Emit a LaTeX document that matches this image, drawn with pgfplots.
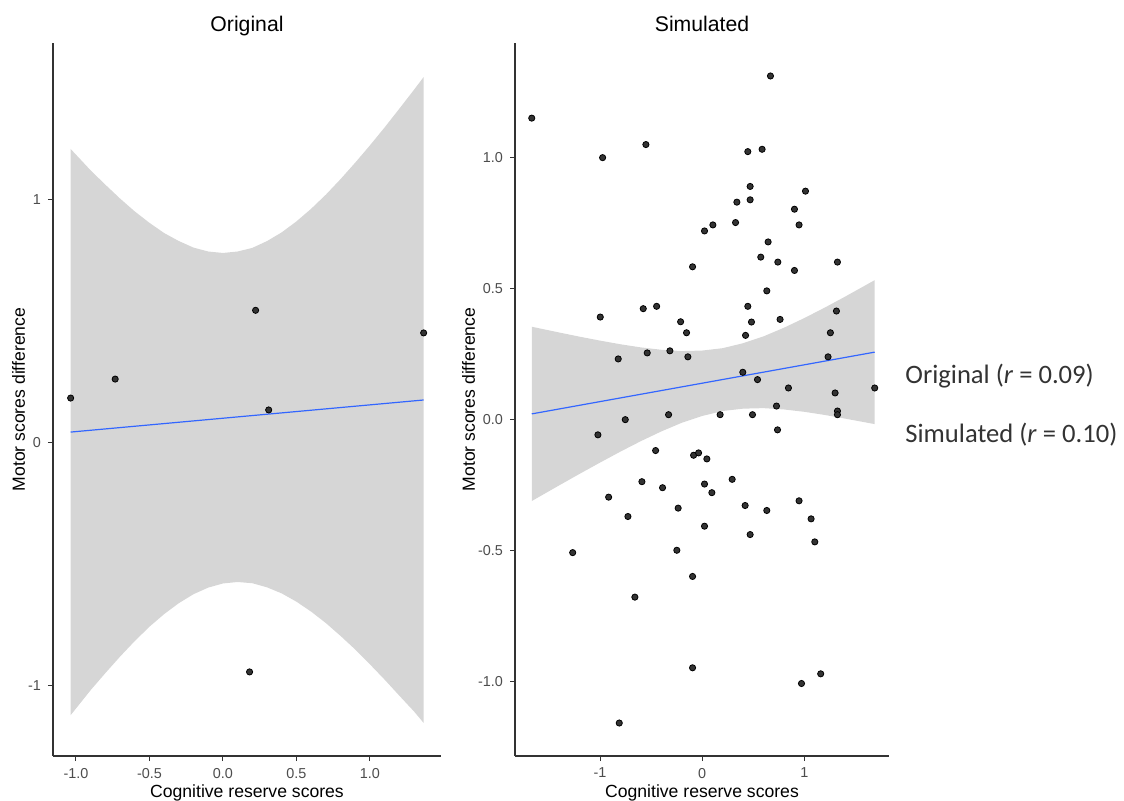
\documentclass[border=0pt]{standalone}
\usepackage{pgfplots}
\pgfplotsset{compat=1.18}
\usepackage{fontspec}
\setmainfont{Liberation Sans}
\newfontfamily\calibri{Carlito}
\definecolor{band}{RGB}{214,214,214}
\definecolor{fit}{RGB}{51,102,255}
\definecolor{ticklab}{RGB}{77,77,77}

\pgfplotsset{
 ggstyle/.style={
  scale only axis,
  anchor=south west,
  axis lines*=left,
  axis line style={black!80, line width=0.6pt, -},
  tick align=outside,
  major tick length=2.5pt,
  tick style={black!80, line width=0.5pt},
  every tick label/.append style={font=\fontsize{7.2}{8}\selectfont, text=ticklab},
  label style={font=\fontsize{8.8}{10}\selectfont},
  title style={font=\fontsize{10.6}{12}\selectfont, at={(axis description cs:0.5,1)}, anchor=base, yshift=-0.25pt},
  xlabel style={at={(axis description cs:0.5,0)}, anchor=base, yshift=-20.8pt},
  xlabel={Cognitive reserve scores},
  ylabel={Motor scores difference},
 },
 pts/.style={only marks, mark=*, mark size=1.55pt, mark options={draw=none, fill=black!80}},
}

\begin{document}
\begin{tikzpicture}

% ---------------- Original ----------------
\begin{axis}[ggstyle,
  at={(26.5pt,22pt)}, width=194pt, height=356.5pt,
  xmin=-1.156, xmax=1.483, ymin=-1.29, ymax=1.644,
  xtick={-1,-0.5,0,0.5,1}, xticklabels={-1.0,-0.5,0.0,0.5,1.0},
  ytick={-1,0,1}, yticklabels={-1,0,1},
  title={Original},
  ylabel style={at={(axis description cs:-0.0722,0.5)}, anchor=base},
]
\addplot[fill=band, draw=none] coordinates {
(-1.036,1.208) (-0.9,1.120) (-0.8,1.061) (-0.7,1.004) (-0.6,0.951) (-0.5,0.904) (-0.4,0.862) (-0.3,0.829) (-0.2,0.802) (-0.1,0.786) (0.0,0.780)
(0.1,0.786) (0.2,0.801) (0.3,0.829) (0.4,0.865) (0.5,0.910) (0.6,0.962) (0.7,1.020) (0.8,1.084) (0.9,1.152) (1.0,1.223) (1.1,1.297) (1.2,1.374) (1.3,1.452) (1.365,1.504)
(1.365,-1.154) (1.3,-1.107) (1.2,-1.042) (1.1,-0.976) (1.0,-0.913) (0.9,-0.852) (0.8,-0.796) (0.7,-0.743) (0.6,-0.696) (0.5,-0.655) (0.4,-0.621) (0.3,-0.596)
(0.2,-0.579) (0.1,-0.574) (0.0,-0.580) (-0.1,-0.597) (-0.2,-0.624) (-0.3,-0.661) (-0.4,-0.706) (-0.5,-0.758) (-0.6,-0.817) (-0.7,-0.881) (-0.8,-0.949) (-0.9,-1.019) (-1.036,-1.122)
} -- cycle;
\addplot[fit, line width=0.6pt] coordinates {(-1.036,0.043) (1.365,0.175)};
\addplot[pts] coordinates {
(-1.036,0.183) (-0.733,0.261) (0.222,0.544) (1.365,0.451) (0.311,0.134) (0.181,-0.944)};
\end{axis}

% ---------------- Simulated ----------------
\begin{axis}[ggstyle,
  at={(257.5pt,22pt)}, width=187pt, height=356.5pt,
  xmin=-1.833, xmax=1.83, ymin=-1.285, ymax=1.439,
  xtick={-1,0,1}, xticklabels={-1,0,1},
  ytick={-1,-0.5,0,0.5,1}, yticklabels={-1.0,-0.5,0.0,0.5,1.0},
  title={Simulated},
  ylabel style={at={(axis description cs:-0.107,0.5)}, anchor=base},
]
\addplot[fill=band, draw=none] coordinates {
(-1.669,0.355) (-1.4,0.333) (-1.2,0.317) (-1.0,0.302) (-0.8,0.288) (-0.6,0.276)
(-0.4,0.267) (-0.2,0.262) (0.0,0.264) (0.2,0.273) (0.4,0.292) (0.6,0.318)
(0.8,0.351) (1.0,0.388) (1.2,0.428) (1.4,0.470) (1.69,0.533)
(1.69,-0.017) (1.4,0.004) (1.2,0.018) (1.0,0.030) (0.8,0.039) (0.6,0.044)
(0.4,0.042) (0.2,0.033) (0.0,0.014) (-0.2,-0.012) (-0.4,-0.045) (-0.6,-0.082)
(-0.8,-0.122) (-1.0,-0.164) (-1.2,-0.207) (-1.4,-0.251) (-1.669,-0.311)
} -- cycle;
\addplot[fit, line width=0.6pt] coordinates {(-1.669,0.022) (1.69,0.258)};
\addplot[pts] coordinates {
(-1.669,1.152) (0.669,1.313) (-0.975,1.001) (-0.551,1.051) (0.447,1.024) (0.587,1.033)
(0.470,0.891) (1.012,0.873) (0.340,0.831) (0.470,0.840) (0.904,0.804) (0.949,0.744)
(0.327,0.753) (0.105,0.744) (0.023,0.721) (0.646,0.679) (0.574,0.621) (0.741,0.602)
(1.325,0.602) (0.904,0.570) (-0.094,0.584) (0.633,0.492) (-0.998,0.392) (-0.577,0.424)
(-0.446,0.433) (0.447,0.433) (1.315,0.415) (-0.211,0.374) (0.483,0.373) (0.763,0.383)
(-0.153,0.332) (0.425,0.322) (1.256,0.332) (-0.822,0.232) (-0.538,0.255) (-0.316,0.263)
(-0.140,0.240) (1.233,0.240) (0.398,0.181) (0.542,0.153) (0.845,0.121) (1.302,0.102)
(1.690,0.121) (-0.753,0.000) (-0.329,0.019) (0.176,0.019) (0.493,0.019) (0.728,0.052)
(1.325,0.033) (1.325,0.019) (-1.021,-0.058) (0.738,-0.039) (-0.456,-0.118) (-0.084,-0.136)
(-0.035,-0.127) (0.046,-0.150) (-0.590,-0.237) (-0.388,-0.260) (0.023,-0.246) (0.095,-0.279)
(0.294,-0.228) (-0.916,-0.296) (0.949,-0.310) (-0.235,-0.338) (0.421,-0.328) (0.633,-0.347)
(-0.727,-0.370) (1.067,-0.379) (0.023,-0.407) (0.470,-0.439) (1.103,-0.467) (-1.268,-0.508)
(-0.248,-0.499) (-0.094,-0.599) (-0.659,-0.678) (-0.094,-0.948) (1.161,-0.971) (0.973,-1.008)
(-0.812,-1.159)};
\end{axis}

\node[anchor=west, inner sep=0pt, text=black!80, font=\calibri\fontsize{13.3}{15}\selectfont] at (452.5pt,211.75pt) {Original (\textit{r} = 0.09)};
\node[anchor=west, inner sep=0pt, text=black!80, font=\calibri\fontsize{13.3}{15}\selectfont] at (452.5pt,182.5pt) {Simulated (\textit{r} = 0.10)};

\pgfresetboundingbox
\path[use as bounding box] (0,0) rectangle (562pt,400pt);
\end{tikzpicture}
\end{document}
